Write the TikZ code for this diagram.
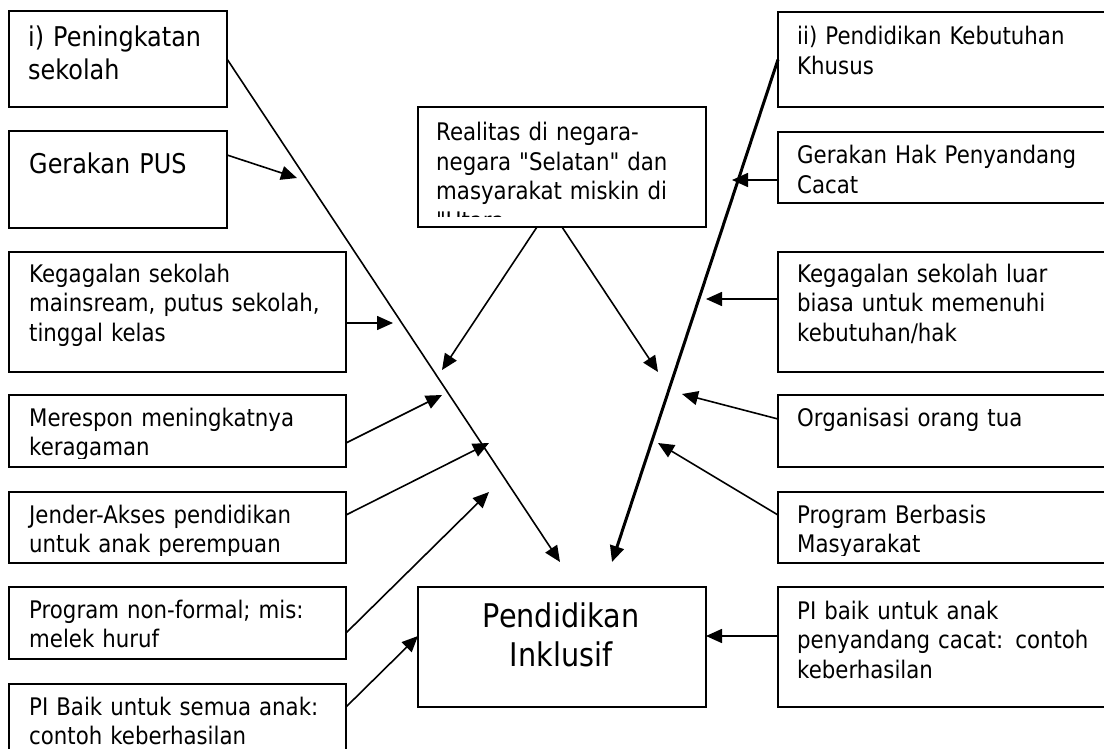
\documentclass[tikz,border=0pt]{standalone}
\usepackage{fontspec}
\setmainfont{DejaVu Sans}[FakeStretch=0.88, Ligatures=TeXOff]
\usetikzlibrary{arrows.meta}

\begin{document}
\begin{tikzpicture}[x=1pt,y=-1pt,
  box/.style={draw=black, line width=2pt, fill=white, anchor=north west,
    inner sep=0pt, outer sep=0pt},
  lbl/.style={anchor=base west, inner sep=0pt, text width=340pt, align=left,
    font=\fontsize{24.2}{29.5}\selectfont},
  biglbl/.style={lbl, font=\fontsize{27.2}{32.6}\selectfont},
  link/.style={draw=black, line width=1.6pt, -{Triangle[length=16pt,width=14pt]}},
  heavylink/.style={link, line width=3pt}
]
% page frame
\clip (0,0) rectangle (1104,749);
\fill[white] (0,0) rectangle (1104,749);

% ---- left column ----
\node[box, minimum width=218pt, minimum height=96pt] (b1) at (9,11) {};
\node[biglbl] (l1) at (28,47) {i) Peningkatan\\sekolah};

\node[box, minimum width=218pt, minimum height=97pt] (b2) at (9,131) {};
\node[biglbl] (l2) at (29,174) {Gerakan PUS};

\node[box, minimum width=337pt, minimum height=120pt] (b3) at (9,252) {};
\node[lbl] (l3) at (29,282) {Kegagalan sekolah\\mainsream, putus sekolah,\\tinggal kelas};

\node[box, minimum width=337pt, minimum height=72pt] (b4) at (9,395) {};
\begin{scope}
  \clip (9,395) rectangle (346,458);
  \node[lbl] (l4) at (29,426) {Merespon meningkatnya\\keragaman};
\end{scope}

\node[box, minimum width=337pt, minimum height=71pt] (b5) at (9,492) {};
\begin{scope}
  \clip (9,492) rectangle (346,555);
  \node[lbl] (l5) at (29,523) {Jender-Akses pendidikan\\untuk anak perempuan};
\end{scope}

\node[box, minimum width=337pt, minimum height=72pt] (b6) at (9,587) {};
\node[lbl] (l6) at (29,618) {Program non-formal; mis:\\melek huruf};

\node[box, minimum width=337pt, minimum height=90pt] (b7) at (9,684) {};
\node[lbl] (l7) at (29,715) {PI Baik untuk semua anak:\\contoh keberhasilan};

% ---- middle ----
\node[box, minimum width=288pt, minimum height=120pt] (real) at (418,107) {};
\begin{scope}
  \clip (418,107) rectangle (706,217);
  \node[lbl] (lr) at (436,141) {Realitas di negara-\\negara "Selatan" dan\\masyarakat miskin di\\"Utara};
\end{scope}

\node[box, minimum width=288pt, minimum height=120pt] (pi) at (418,587) {};
\node[anchor=base, inner sep=0pt, text width=300pt, align=center,
  font=\fontsize{32.6}{39.3}\selectfont] (lpi) at (561,627) {Pendidikan\\Inklusif};

% ---- right column ----
\node[box, minimum width=340pt, minimum height=95pt] (r1) at (778,12) {};
\node[lbl] (m1) at (797,45) {ii) Pendidikan Kebutuhan\\Khusus};

\node[box, minimum width=340pt, minimum height=71pt] (r2) at (778,132) {};
\node[lbl] (m2) at (797,164) {Gerakan Hak Penyandang\\Cacat};

\node[box, minimum width=340pt, minimum height=120pt] (r3) at (778,252) {};
\node[lbl] (m3) at (797,282) {Kegagalan sekolah luar\\biasa untuk memenuhi\\kebutuhan/hak};

\node[box, minimum width=340pt, minimum height=72pt] (r4) at (778,395) {};
\node[lbl] (m4) at (797,426) {Organisasi orang tua};

\node[box, minimum width=340pt, minimum height=71pt] (r5) at (778,492) {};
\begin{scope}
  \clip (778,492) rectangle (1104,555);
  \node[lbl] (m5) at (797,523) {Program Berbasis\\Masyarakat};
\end{scope}

\node[box, minimum width=340pt, minimum height=120pt] (r6) at (778,587) {};
\node[lbl] (m6) at (797,619) {PI baik untuk anak\\penyandang cacat: contoh\\keberhasilan};

% ---- arrow tips ----
\coordinate (t1) at (560,562);
\coordinate (t2) at (612,562);
\coordinate (t3) at (297,178);
\coordinate (t4) at (732,180);
\coordinate (t5) at (442,370);
\coordinate (t6) at (658,372);
\coordinate (t7) at (393,323);
\coordinate (t8) at (706,299);
\coordinate (t9) at (442,395);
\coordinate (t10) at (682,394);
\coordinate (t11) at (489,443);
\coordinate (t12) at (658,443);
\coordinate (t13) at (489,492);

% ---- connectors ----
\draw[link] (b1.east) -- (t1);
\draw[heavylink] (r1.west) -- (t2);
\draw[link] ([yshift=24.5pt]b2.east) -- (t3);
\draw[link] ([yshift=-12.5pt]r2.west) -- (t4);
\draw[link] ([xshift=-25pt]real.south) -- (t5);
\draw[link] (real.south) -- (t6);
\draw[link] ([yshift=-11pt]b3.east) -- (t7);
\draw[link] ([yshift=13pt]r3.west) -- (t8);
\draw[link] ([yshift=-12pt]b4.east) -- (t9);
\draw[link] ([yshift=12pt]r4.west) -- (t10);
\draw[link] ([yshift=12.5pt]b5.east) -- (t11);
\draw[link] ([yshift=12.5pt]r5.west) -- (t12);
\draw[link] ([yshift=-10pt]b6.east) -- (t13);
\draw[link] ([yshift=-23pt]b7.north east) -- ([yshift=11pt]pi.west);
\draw[link] ([yshift=11pt]r6.west) -- ([yshift=11pt]pi.east);
\end{tikzpicture}
\end{document}
